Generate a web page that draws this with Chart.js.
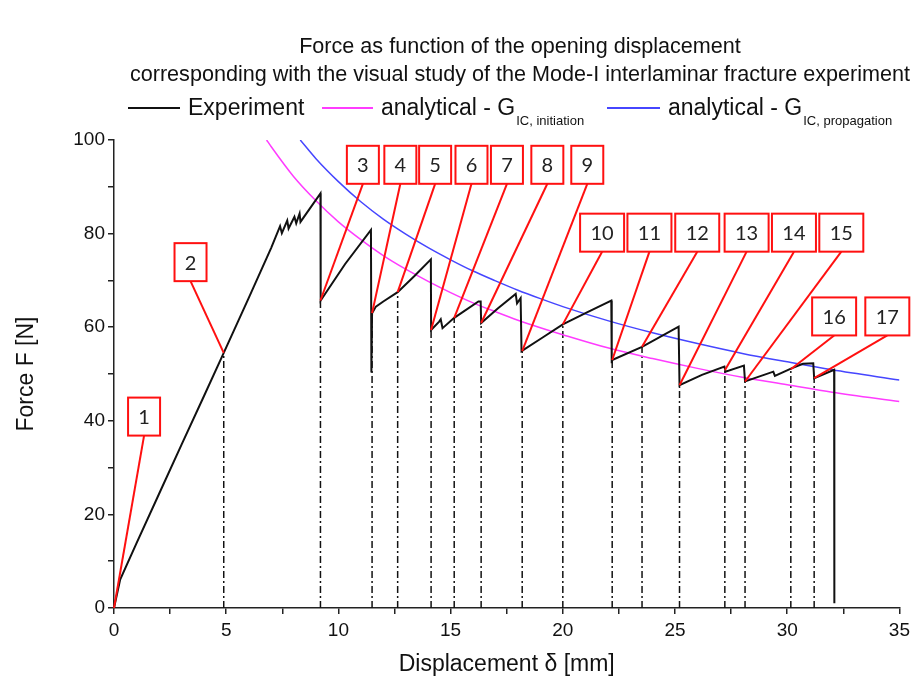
<!DOCTYPE html>
<html>
<head>
<meta charset="utf-8">
<title>Force as function of the opening displacement</title>
<script src="https://cdn.jsdelivr.net/npm/chart.js@4.4.1/dist/chart.umd.min.js"></script>
<style>
  html, body { margin: 0; padding: 0; background: #fff; }
  #wrap { width: 915px; height: 684px; }
</style>
</head>
<body>
<div id="wrap"><canvas id="chart" width="915" height="684"></canvas></div>
<script>
// 実験値: 変位 δ [mm] と荷重 F [N]
const expX = [0, 0.27, 1.0, 2.0, 3.0, 4.0, 4.89, 6.0, 7.0, 7.4, 7.48, 7.72, 7.78, 8.04, 8.12, 8.27, 8.31,
  9.2, 9.21, 10.3, 11.45, 11.47, 11.5, 11.67, 12.0, 12.64, 13.4, 14.12, 14.13, 14.49, 14.56, 14.64,
  15.16, 16.24, 16.34, 16.36, 17.1, 17.9, 17.96, 18.12, 18.16, 19.1, 20.0, 21.1, 22.16, 22.18, 22.2,
  23.53, 25.16, 25.2, 26.2, 27.2, 27.25, 28.07, 28.12, 29.38, 29.45, 30.19, 30.7, 31.16, 31.2, 32.09, 32.1];
const expY = [0, 6.0, 13.8, 24.3, 34.8, 45.2, 54.5, 66.2, 76.9, 81.6, 80.1, 82.8, 81.1, 83.6, 82.2, 84.3, 82.5,
  88.6, 65.7, 73.5, 80.8, 50.3, 63.0, 64.4, 65.5, 67.5, 71.0, 74.5, 59.4, 61.2, 61.7, 59.8,
  62.0, 65.5, 65.5, 60.9, 64.0, 67.1, 65.1, 66.2, 54.9, 57.8, 60.6, 63.2, 65.7, 52.3, 53.0,
  55.8, 60.1, 47.6, 49.8, 51.6, 50.5, 51.8, 48.4, 50.5, 49.6, 51.2, 52.2, 52.3, 49.1, 50.9, 1.0];

// 解析解 G_IC,initiation
const initX = [6.8, 7, 8, 9, 10, 11, 12, 13, 14, 15, 16, 17, 18, 19, 20, 22, 24, 26, 28, 30, 32, 35];
const initY = [100, 98.6, 92.2, 87.0, 82.5, 78.7, 75.3, 72.4, 69.8, 67.4, 65.2, 63.3, 61.5, 59.9, 58.4,
  55.6, 53.3, 51.2, 49.3, 47.7, 46.1, 44.1];

// 解析解 G_IC,propagation
const propX = [8.3, 9, 10, 11, 12, 13, 14, 15, 16, 17, 18, 19, 20, 22, 24, 26, 28, 30, 32, 35];
const propY = [100, 96.0, 91.1, 86.8, 83.1, 79.9, 77.0, 74.4, 72.0, 69.9, 67.9, 66.1, 64.4, 61.4, 58.8,
  56.5, 54.4, 52.6, 50.9, 48.7];

// 観察番号と対応する点
const markNo = [1, 2, 3, 4, 5, 6, 7, 8, 9, 10, 11, 12, 13, 14, 15, 16, 17];
const markX = [0, 4.89, 9.2, 11.5, 12.64, 14.13, 15.16, 16.36, 18.19, 20.0, 22.2, 23.53, 25.2, 27.22, 28.12, 30.16, 31.2];
const markY = [0, 54.5, 65.7, 63.0, 67.5, 59.4, 62.0, 60.9, 54.9, 60.6, 53.0, 55.8, 47.6, 50.8, 48.4, 51.0, 49.1];
// 番号ボックスの中心 (データ座標)
const boxX = [1.34, 3.41, 11.09, 12.76, 14.31, 15.93, 17.51, 19.31, 21.09, 21.75, 23.86, 25.99, 28.19, 30.3, 32.41, 32.09, 34.46];
const boxY = [40.9, 73.9, 94.7, 94.7, 94.7, 94.7, 94.7, 94.7, 94.7, 80.2, 80.2, 80.2, 80.2, 80.2, 80.2, 62.3, 62.3];

// 目盛ラベル
const xTickLabels = [0, 5, 10, 15, 20, 25, 30, 35];
const yTickLabels = [0, 20, 40, 60, 80, 100];

const FONT = "'Liberation Sans', Arial, sans-serif";

const pts = (xs, ys) => xs.map((x, i) => ({ x, y: ys[i] }));

// 各観察点から x 軸へ下ろす一点鎖線
const dropData = [];
for (let i = 1; i < markX.length; i++) {
  dropData.push({ x: markX[i], y: 0 }, { x: markX[i], y: markY[i] }, { x: markX[i], y: null });
}

const calloutPlugin = {
  id: 'callouts',
  afterDatasetsDraw(chart) {
    const { ctx, scales: { x, y } } = chart;
    ctx.save();
    markNo.forEach((n, i) => {
      const bx = x.getPixelForValue(boxX[i]);
      const by = y.getPixelForValue(boxY[i]);
      const px = x.getPixelForValue(markX[i]);
      const py = y.getPixelForValue(markY[i]);
      const w = n < 10 ? 32 : 44, h = 38;
      ctx.strokeStyle = '#ff1010';
      ctx.lineWidth = 2;
      ctx.beginPath();
      ctx.moveTo(bx, by + h / 2);
      ctx.lineTo(px, py);
      ctx.stroke();
      ctx.fillStyle = '#fff';
      ctx.fillRect(bx - w / 2, by - h / 2, w, h);
      ctx.strokeRect(bx - w / 2, by - h / 2, w, h);
      ctx.fillStyle = '#222';
      ctx.font = "20px Lato, 'Open Sans', sans-serif";
      ctx.textAlign = 'center';
      ctx.textBaseline = 'middle';
      ctx.fillText(String(n), bx, by + 1);
    });
    ctx.restore();
  }
};

const textPlugin = {
  id: 'texts',
  afterDraw(chart) {
    const { ctx, chartArea: a } = chart;
    ctx.save();
    ctx.fillStyle = '#111';
    ctx.textBaseline = 'middle';

    // タイトル
    ctx.textAlign = 'center';
    ctx.font = `21.6px ${FONT}`;
    ctx.fillText('Force as function of the opening displacement', 520, 47);
    ctx.fillText('corresponding with the visual study of the Mode-I interlaminar fracture experiment', 520, 75);

    // 軸タイトル
    ctx.font = `23px ${FONT}`;
    ctx.fillText('Displacement δ [mm]', (a.left + a.right) / 2, 665);
    ctx.save();
    ctx.translate(27, (a.top + a.bottom) / 2);
    ctx.rotate(-Math.PI / 2);
    ctx.fillText('Force F [N]', 0, 0);
    ctx.restore();

    // 凡例 (下付き文字のため自前で描画)
    const items = [
      { x0: 128, x1: 180, color: chart.data.datasets[0].borderColor, text: 'Experiment', sub: '' },
      { x0: 322, x1: 373, color: chart.data.datasets[1].borderColor, text: 'analytical - G', sub: 'IC, initiation' },
      { x0: 607, x1: 660, color: chart.data.datasets[2].borderColor, text: 'analytical - G', sub: 'IC, propagation' }
    ];
    const ly = 108;
    items.forEach(it => {
      ctx.strokeStyle = it.color;
      ctx.lineWidth = 2;
      ctx.beginPath();
      ctx.moveTo(it.x0, ly);
      ctx.lineTo(it.x1, ly);
      ctx.stroke();
      ctx.textAlign = 'left';
      ctx.font = `23px ${FONT}`;
      const tx = it.x1 + 8;
      ctx.fillText(it.text, tx, ly + 1);
      if (it.sub) {
        const w = ctx.measureText(it.text).width;
        ctx.font = `13px ${FONT}`;
        ctx.fillText(it.sub, tx + w + 1, ly + 13);
      }
    });
    ctx.restore();
  }
};

new Chart(document.getElementById('chart'), {
  type: 'scatter',
  data: {
    datasets: [
      {
        label: 'Experiment',
        data: pts(expX, expY),
        showLine: true,
        borderColor: '#111',
        borderWidth: 2,
        pointRadius: 0,
        tension: 0
      },
      {
        label: 'analytical - G_IC, initiation',
        data: pts(initX, initY),
        showLine: true,
        borderColor: '#ff3cff',
        borderWidth: 1.5,
        pointRadius: 0,
        cubicInterpolationMode: 'monotone'
      },
      {
        label: 'analytical - G_IC, propagation',
        data: pts(propX, propY),
        showLine: true,
        borderColor: '#4646ff',
        borderWidth: 1.5,
        pointRadius: 0,
        cubicInterpolationMode: 'monotone'
      },
      {
        label: 'drop',
        data: dropData,
        showLine: true,
        spanGaps: false,
        borderColor: '#111',
        borderWidth: 1.5,
        borderDash: [7, 3, 2, 3],
        pointRadius: 0
      }
    ]
  },
  options: {
    responsive: false,
    animation: false,
    layout: { padding: { left: 0, top: 140, right: 13, bottom: 0 } },
    plugins: {
      legend: { display: false },
      title: { display: false },
      tooltip: { enabled: false }
    },
    scales: {
      x: {
        type: 'linear',
        min: 0,
        max: 35,
        afterFit: s => { s.height = 76; },
        border: { color: '#222', width: 1.5 },
        grid: { drawOnChartArea: false, color: '#222', tickLength: 6, lineWidth: 1.5 },
        ticks: {
          stepSize: 2.5,
          autoSkip: false,
          maxRotation: 0,
          padding: 5,
          color: '#111',
          font: { family: FONT, size: 19 },
          callback: v => xTickLabels.includes(v) ? String(v) : ''
        }
      },
      y: {
        type: 'linear',
        min: 0,
        max: 100,
        afterFit: s => { s.width = 114; },
        border: { color: '#222', width: 1.5 },
        grid: { drawOnChartArea: false, color: '#222', tickLength: 6, lineWidth: 1.5 },
        ticks: {
          stepSize: 10,
          autoSkip: false,
          padding: 3,
          color: '#111',
          font: { family: FONT, size: 19 },
          callback: v => yTickLabels.includes(v) ? String(v) : ''
        }
      }
    }
  },
  plugins: [calloutPlugin, textPlugin]
});
</script>
</body>
</html>
